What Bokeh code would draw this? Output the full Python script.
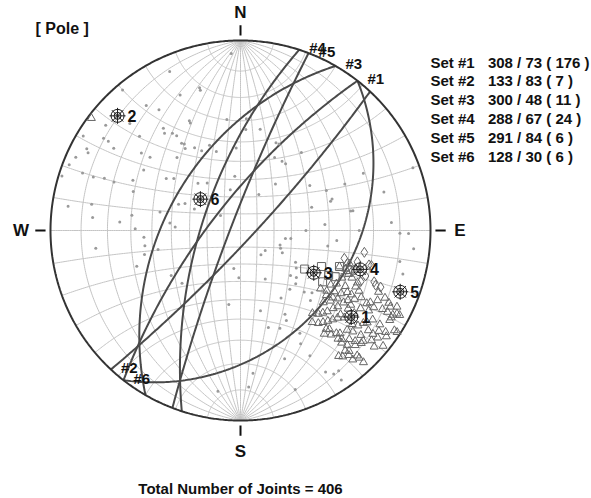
import numpy as np
from bokeh.plotting import figure
from bokeh.core.properties import value
from bokeh.embed import file_html
from bokeh.resources import INLINE

FONT = "Liberation Sans"

# ---------------- data ----------------
set_labels = ["Set #1", "Set #2", "Set #3", "Set #4", "Set #5", "Set #6"]
set_dipdir = [308, 133, 300, 288, 291, 128]
set_dip = [73, 83, 48, 67, 84, 30]
set_count = [176, 7, 11, 24, 6, 6]
total_joints = 406

# unassigned poles (trend, plunge)
misc_trend = [320, 323, 326, 336, 336, 308, 301, 304, 304, 303, 298, 297, 294,
              325, 326, 323, 322, 319, 313, 314, 308, 309,
              291, 290, 290, 291, 291, 295, 302, 305, 308, 287, 290,
              278, 280, 275, 274, 278, 271, 283, 276, 273, 266, 261, 256, 257, 263, 251, 237,
              357, 344, 344, 335, 335, 353, 3, 11, 3,
              326, 327, 326, 331, 334, 340, 343, 357,
              22, 24, 25, 31, 34, 38,
              318, 325, 354, 37, 346, 27, 293, 296, 295, 307,
              100, 99, 110, 114, 129, 140, 118,
              190, 182, 153, 120, 124, 228, 140,
              65, 70, 57, 65, 66, 75, 72, 72, 71, 80, 80,
              90, 86, 90, 87, 91, 91, 96, 96, 100, 105, 101,
              130, 134, 134, 135, 166, 152, 153, 131, 158, 150, 152, 161, 151, 149, 147, 145, 146, 175, 161,
              189, 132, 149, 164, 177, 188]
misc_plunge = [2, 11, 15, 5, 14, 6, 2, 8, 10, 13, 5, 6, 3,
               26, 28, 22, 24, 36, 18, 12, 23, 27,
               2, 7, 11, 15, 19, 26, 28, 39, 42, 1, 28,
               5, 13, 14, 25, 30, 32, 43, 49, 52, 36, 36, 35, 42, 15, 30, 43,
               4, 14, 15, 25, 26, 29, 29, 33, 34,
               32, 33, 35, 37, 40, 39, 43, 43,
               37, 37, 44, 44, 44, 35,
               53, 56, 58, 56, 65, 66, 51, 54, 60, 75,
               63, 60, 65, 64, 71, 71, 62,
               67, 62, 58, 53, 51, 45, 46,
               19, 2, 43, 37, 28, 14, 47, 37, 36, 29, 28,
               52, 42, 26, 13, 10, 7, 36, 5, 40, 7, 9,
               48, 46, 40, 35, 43, 37, 34, 37, 32, 26, 22, 19, 16, 8, 6, 6, 3, 16, 7,
               47, 51, 45, 34, 11, 9]

# set #1 poles (triangles)
set1_trend = [110, 110, 112, 115, 113, 114, 116, 118, 119, 121, 125, 123, 122, 120, 120, 117, 119,
              121, 123, 125, 125, 120, 119, 117, 115, 117, 127, 126, 126, 128, 124, 130, 126, 126,
              123, 122, 120, 119, 119, 118, 119, 142, 140, 138, 136, 134, 132, 130, 126, 124, 124,
              121, 127, 129, 130, 139, 138, 137, 136, 133, 132, 131, 128, 128, 126, 125, 123, 123,
              141, 139, 138, 137, 135, 134, 132, 130, 128, 138, 137, 135, 133, 131, 129, 139, 138,
              142, 141, 139, 137, 137, 137, 139, 139, 137, 135, 133, 130, 131, 128, 114, 116, 116,
              118, 120, 126, 107, 109, 307]
set1_plunge = [32, 29, 27, 29, 25, 22, 22, 26, 30, 32, 32, 29, 26, 24, 22, 20, 18,
               20, 22, 23, 26, 15, 14, 12, 10, 7, 31, 28, 35, 24, 20, 21, 20, 17,
               16, 13, 12, 9, 7, 4, 5, 27, 25, 24, 23, 22, 21, 19, 11, 10, 7,
               5, 12, 13, 15, 21, 20, 17, 16, 15, 13, 10, 9, 7, 6, 4, 2, 1,
               20, 18, 15, 14, 12, 10, 8, 6, 5, 13, 11, 9, 8, 4, 2, 10, 9,
               10, 9, 8, 6, 5, 3, 6, 30, 28, 27, 26, 25, 30, 28, 13, 8, 5,
               3, 5, 3, 28, 25, 1]

# set #3 poles (squares)
set3_trend = [110, 110, 122, 121, 117, 114, 116]
set3_plunge = [32, 28, 36, 47, 35, 40, 32]

# set #4 poles (diamonds)
set4_trend = [105, 100, 105, 111, 112, 112, 105, 110, 110, 105, 113, 107]
set4_plunge = [31, 23, 20, 16, 15, 13, 25, 26, 20, 19, 21, 29]


# ---------------- projection helpers (equal-angle, lower hemisphere) ----------------
def proj_vec(vx, vy, vz):
    return vx / (1.0 - vz), vy / (1.0 - vz)


def proj_pole(trend, plunge):
    t = np.radians(np.asarray(trend, float))
    pl = np.radians(np.asarray(plunge, float))
    r = np.tan(np.pi / 4 - pl / 2)
    return r * np.sin(t), r * np.cos(t)


def plane_curve(dd, dip, n=241):
    u = np.linspace(0, np.pi, n)
    s = np.radians(dd - 90)
    a = np.radians(dd)
    d = np.radians(dip)
    vx = np.cos(u) * np.sin(s) + np.sin(u) * np.sin(a) * np.cos(d)
    vy = np.cos(u) * np.cos(s) + np.sin(u) * np.cos(a) * np.cos(d)
    vz = -np.sin(u) * np.sin(d)
    return proj_vec(vx, vy, vz)


def small_circle_ns(alpha, n=241):
    f = np.linspace(0, np.pi, n)
    al = np.radians(alpha)
    vx = np.sin(al) * np.cos(f)
    vy = np.cos(al) * np.ones_like(f)
    vz = -np.sin(al) * np.sin(f)
    return proj_vec(vx, vy, vz)


# ---------------- figure ----------------
R_PX = 190.0
W, H = 591, 498
CX, CY = 240.0, 230.0
p = figure(width=W, height=H,
           x_range=(-CX / R_PX, (W - CX) / R_PX),
           y_range=(-(H - CY) / R_PX, CY / R_PX),
           output_backend="svg", toolbar_location=None,
           x_axis_location=None, y_axis_location=None,
           min_border=0, outline_line_color=None)
p.grid.visible = False
p.background_fill_color = "white"
p.border_fill_color = "white"

# net grid
gx, gy = [], []
for dip in range(10, 90, 10):
    for dd in (90, 270):
        x, y = plane_curve(dd, dip)
        gx.append(x); gy.append(y)
x, y = plane_curve(90, 90)
gx.append(x); gy.append(y)
for alpha in range(10, 180, 10):
    x, y = small_circle_ns(alpha)
    gx.append(x); gy.append(y)
p.multi_line(gx, gy, line_color="#c4c4c4", line_width=1)

# set great circles
cx_l, cy_l = [], []
for dd, dp in zip(set_dipdir, set_dip):
    x, y = plane_curve(dd, dp)
    cx_l.append(x); cy_l.append(y)
p.multi_line(cx_l, cy_l, line_color="#4a4a4a", line_width=2)

# primitive circle
th = np.linspace(0, 2 * np.pi, 721)
p.line(np.cos(th), np.sin(th), line_color="#333333", line_width=2)

# cardinal ticks
t_in, t_out = 1.026, 1.08
p.segment(x0=[0, 0, t_in, -t_in], y0=[t_in, -t_in, 0, 0],
          x1=[0, 0, t_out, -t_out], y1=[t_out, -t_out, 0, 0],
          line_color="#111111", line_width=2)
p.text(x=[0, 0, 1.155, -1.155], y=[1.145, -1.163, 0, 0], text=["N", "S", "E", "W"],
       text_font=value(FONT), text_font_style="bold", text_font_size="17px",
       text_align="center", text_baseline="middle", text_color="#111111")

# scatter of poles
mx, my = proj_pole(misc_trend, misc_plunge)
p.scatter(mx, my, marker="circle", size=3, fill_color="#9a9a9a", line_color=None)
s1x, s1y = proj_pole(set1_trend, set1_plunge)
p.scatter(s1x, s1y, marker="triangle", size=8, fill_color=None, line_color="#666666", line_width=1)
s3x, s3y = proj_pole(set3_trend, set3_plunge)
p.scatter(s3x, s3y, marker="square", size=8, fill_color=None, line_color="#666666", line_width=1)
s4x, s4y = proj_pole(set4_trend, set4_plunge)
p.scatter(s4x, s4y, marker="diamond", size=10, fill_color=None, line_color="#666666", line_width=1)

# set mean poles
pole_trend = [(d + 180) % 360 for d in set_dipdir]
pole_plunge = [90 - d for d in set_dip]
px_, py_ = proj_pole(pole_trend, pole_plunge)
p.scatter(px_, py_, marker="circle", size=13, fill_color=None, line_color="#1a1a1a", line_width=1)
p.scatter(px_, py_, marker="circle", size=7, fill_color=None, line_color="#1a1a1a", line_width=1)
p.scatter(px_, py_, marker="asterisk", size=16, line_color="#1a1a1a", line_width=1)
p.text(px_, py_, text=[str(i + 1) for i in range(len(set_dipdir))], x_offset=10,
       text_font=value(FONT), text_font_style="bold", text_font_size="16px",
       text_align="left", text_baseline="middle", text_color="#111111")

# great-circle labels at the dd+90 end
ex = [np.sin(np.radians(d + 90)) for d in set_dipdir]
ey = [np.cos(np.radians(d + 90)) for d in set_dipdir]
p.text(ex, ey, text=["#" + str(i + 1) for i in range(len(set_dipdir))], x_offset=10, y_offset=-2,
       text_font=value(FONT), text_font_style="bold", text_font_size="15px",
       text_align="left", text_baseline="alphabetic", text_color="#111111")

# legend text
lx0, lx1, ly0, ldy = 1.0, 1.302, 0.886, 0.0989
ly = [ly0 - i * ldy for i in range(len(set_labels))]
p.text([lx0] * len(ly), ly, text=set_labels,
       text_font=value(FONT), text_font_style="bold", text_font_size="15px",
       text_align="left", text_baseline="middle", text_color="#111111")
p.text([lx1] * len(ly), ly,
       text=[f"{a} / {b} ( {c} )" for a, b, c in zip(set_dipdir, set_dip, set_count)],
       text_font=value(FONT), text_font_style="bold", text_font_size="15px",
       text_align="left", text_baseline="middle", text_color="#111111")

# titles
p.text(x=[-1.079], y=[1.063], text=["[ Pole ]"],
       text_font=value(FONT), text_font_style="bold", text_font_size="16px",
       text_align="left", text_baseline="middle", text_color="#111111")
p.text(x=[0.0], y=[-1.358], text=[f"Total Number of Joints = {total_joints}"],
       text_font=value(FONT), text_font_style="bold", text_font_size="15px",
       text_align="center", text_baseline="middle", text_color="#111111")

open("out.html", "w").write(file_html(p, INLINE))
